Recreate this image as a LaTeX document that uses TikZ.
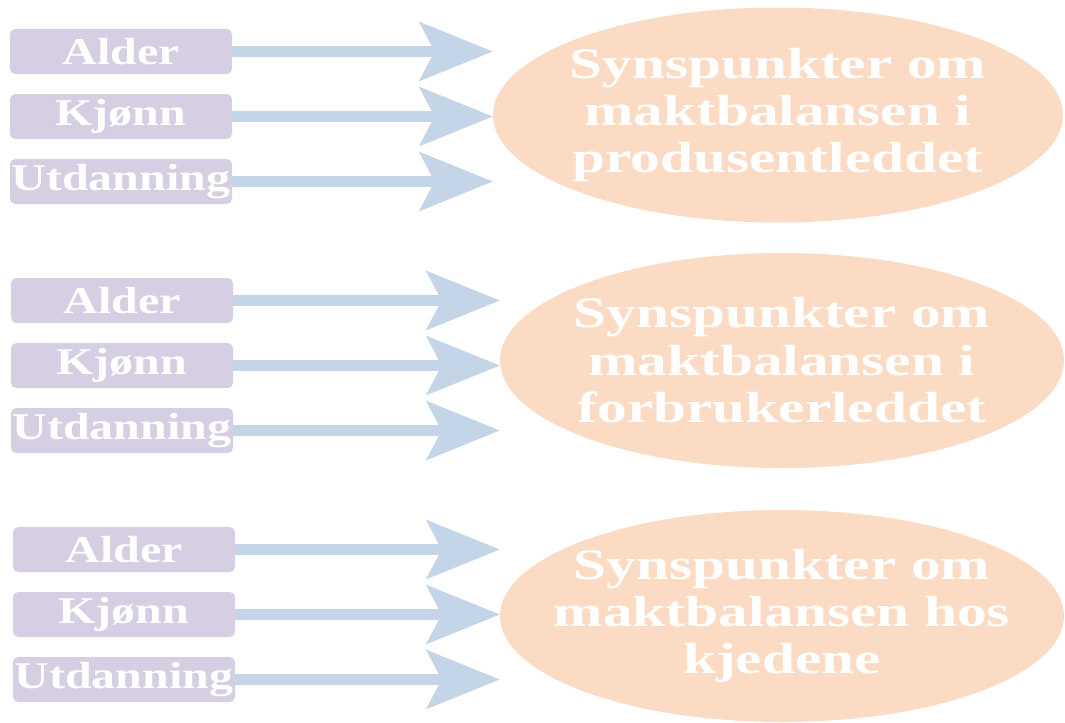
\documentclass[tikz,border=0pt]{standalone}
\usepackage{fontspec}
\newfontfamily\boxfont[FakeStretch=1.27]{Liberation Serif}
\newfontfamily\viewfont[FakeStretch=1.36]{Liberation Serif}
\usepackage{tikz}
\usetikzlibrary{matrix,arrows.meta,shapes.geometric}

\definecolor{boxlilac}{RGB}{214,206,226}
\definecolor{arrowblue}{RGB}{196,213,232}
\definecolor{ellpeach}{RGB}{251,219,195}

\begin{document}
\begin{tikzpicture}[
        font=\boxfont\bfseries,
        factors/.style={
            matrix of nodes,
            nodes={fill=boxlilac, rounded corners=3pt, minimum width=4.44cm,
                   minimum height=0.9cm, inner sep=0pt, text=white,
                   font=\boxfont\bfseries\fontsize{21.5}{24}\selectfont},
            row sep=0.4cm
        },
        view/.style={
            ellipse, fill=ellpeach, inner sep=0pt,
            minimum width=11.3cm, minimum height=4.3cm
        },
        viewtext/.style={
            text=white, align=center, inner sep=0pt,
            font=\viewfont\bfseries\fontsize{24.8}{27}\selectfont
        },
        link/.style={
            draw=arrowblue, line width=6pt,
            -{Stealth[length=42pt, width=34pt, inset=9pt, line width=0.4pt, fill=arrowblue]}
        }]

        \useasboundingbox (0,0) rectangle (21.3,-14.46);

        \matrix[factors] (g1) at (2.42,-2.33) {
            Alder \\
            Kjønn \\
            Utdanning \\
        };
        \matrix[factors] (g2) at (2.44,-7.31) {
            Alder \\
            Kjønn \\
            Utdanning \\
        };
        \matrix[factors] (g3) at (2.48,-12.29) {
            Alder \\
            Kjønn \\
            Utdanning \\
        };

        \node[view, minimum width=11.4cm, label={[viewtext]center:{Synspunkter om\\maktbalansen i\\produsentleddet}}] (e1) at (15.56,-2.30) {};
        \node[view, minimum width=11.28cm, label={[viewtext]center:{Synspunkter om\\maktbalansen i\\forbrukerleddet}}] (e2) at (15.64,-7.21) {};
        \node[view, minimum width=11.28cm, minimum height=4.24cm, label={[viewtext]center:{Synspunkter om\\maktbalansen hos\\kjedene}}] (e3) at (15.64,-12.32) {};

        % producer side
        \draw[link] (g1-1-1.east) -- (g1-1-1.east -| e1.west);
        \draw[link] (g1-2-1.east) -- (g1-2-1.east -| e1.west);
        \draw[link] (g1-3-1.east) -- (g1-3-1.east -| e1.west);

        % consumer side
        \draw[link] (g2-1-1.east) -- (g2-1-1.east -| e2.west);
        \draw[link] (g2-2-1.east) -- (g2-2-1.east -| e2.west);
        \draw[link] (g2-3-1.east) -- (g2-3-1.east -| e2.west);

        % chains
        \draw[link] (g3-1-1.east) -- (g3-1-1.east -| e3.west);
        \draw[link] (g3-2-1.east) -- (g3-2-1.east -| e3.west);
        \draw[link] (g3-3-1.east) -- (g3-3-1.east -| e3.west);
    \end{tikzpicture}
\end{document}
